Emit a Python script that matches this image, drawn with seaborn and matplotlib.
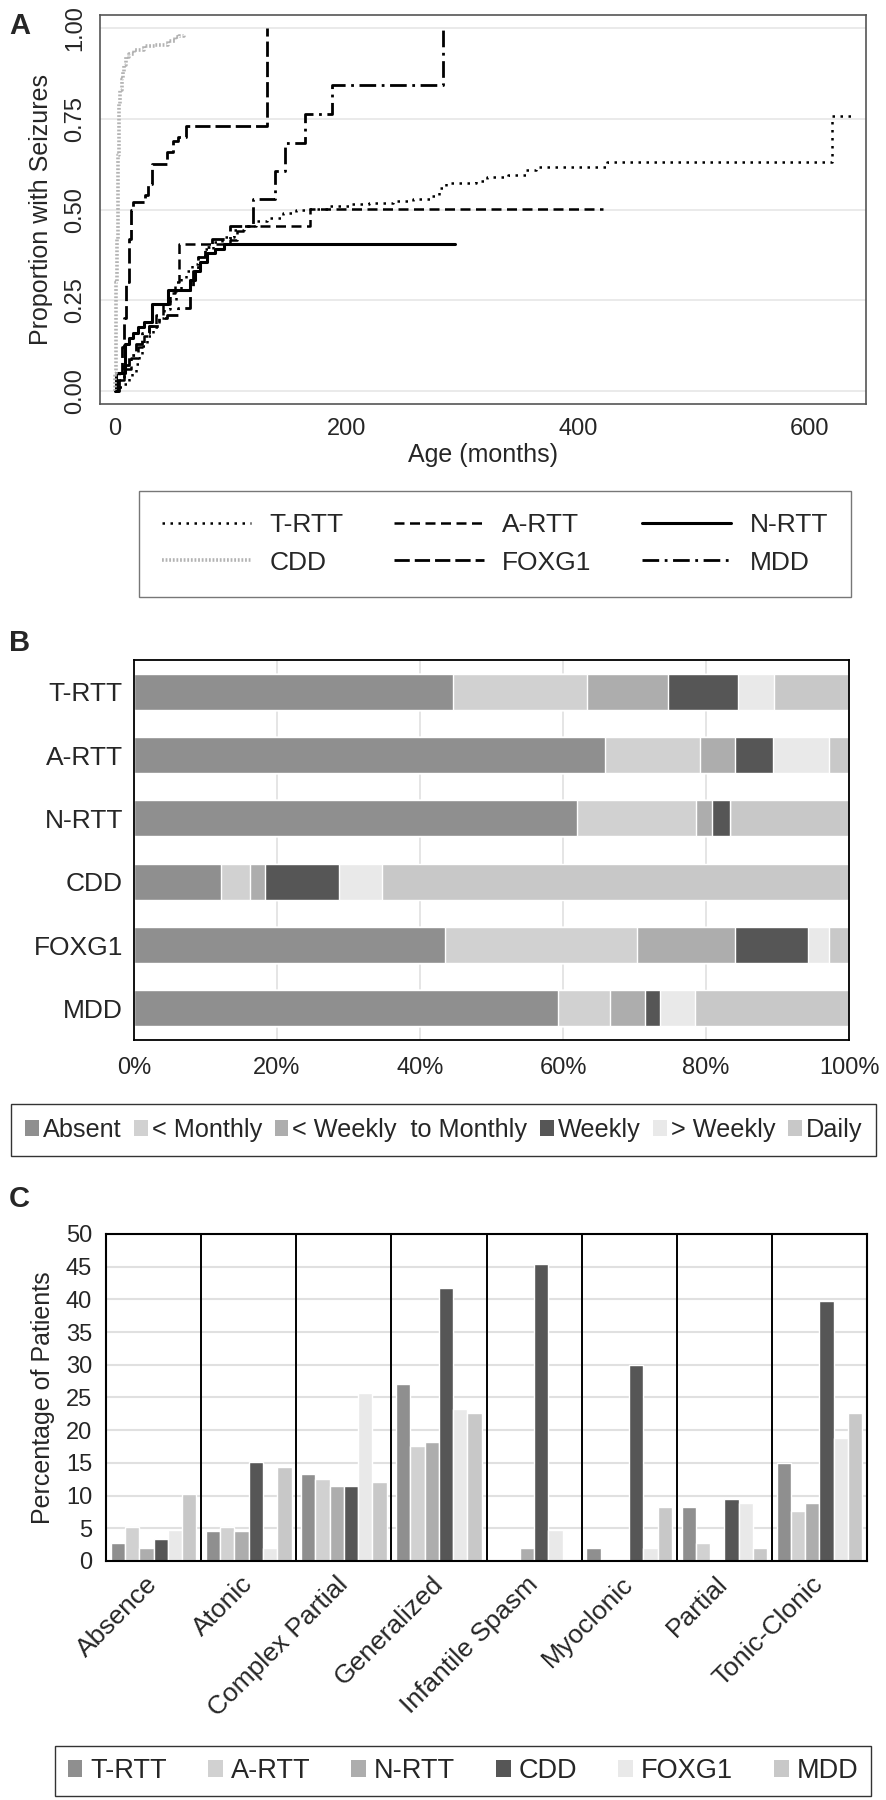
import numpy as np
import pandas as pd
import seaborn as sns
import matplotlib.pyplot as plt
from matplotlib.lines import Line2D
from matplotlib.patches import Patch

# --- Panel A: cumulative proportion with seizures by age (months) ---
trtt_t = [0, 4, 8, 12, 15, 18, 21, 24, 28, 33, 38, 43, 48, 53, 57, 62, 67, 72, 78, 85, 93, 103,
          112, 122, 132, 145, 157, 167, 185, 205, 220, 240, 258, 272, 280, 286, 312, 322, 340,
          355, 364, 425, 620, 636]
trtt_p = [0, 0.01, 0.02, 0.035, 0.05, 0.075, 0.10, 0.125, 0.15, 0.175, 0.20, 0.225, 0.25, 0.28,
          0.31, 0.33, 0.35, 0.37, 0.39, 0.41, 0.425, 0.445, 0.455, 0.468, 0.478, 0.49, 0.498,
          0.503, 0.51, 0.515, 0.518, 0.525, 0.53, 0.537, 0.56, 0.574, 0.58, 0.59, 0.595, 0.61,
          0.618, 0.632, 0.757, 0.757]
artt_t = [0, 3, 8, 14, 20, 25, 30, 36, 42, 48, 52, 56, 100, 106, 112, 169, 422]
artt_p = [0, 0.03, 0.06, 0.09, 0.12, 0.15, 0.18, 0.21, 0.24, 0.27, 0.30, 0.405, 0.415, 0.44,
          0.455, 0.502, 0.502]
nrtt_t = [0, 1, 9, 12, 16, 20, 25, 32, 46, 65, 69, 74, 80, 87, 94.5, 294]
nrtt_p = [0, 0.05, 0.13, 0.147, 0.16, 0.175, 0.19, 0.24, 0.277, 0.306, 0.33, 0.355, 0.38, 0.39,
          0.404, 0.404]
cdd_t = [0, 0.5, 1, 1.5, 2, 2.5, 3, 3.5, 4, 5, 6, 7, 8, 10, 12, 17, 25, 35, 46, 52, 56, 60]
cdd_p = [0, 0.05, 0.15, 0.3, 0.42, 0.55, 0.65, 0.72, 0.79, 0.83, 0.86, 0.88, 0.9, 0.92, 0.93,
         0.94, 0.952, 0.955, 0.965, 0.975, 0.98, 0.985]
foxg1_t = [0, 4, 6, 8, 10, 12, 14, 16, 26, 29, 32, 45, 50, 55, 62, 132]
foxg1_p = [0, 0.05, 0.12, 0.2, 0.3, 0.42, 0.5, 0.52, 0.54, 0.57, 0.625, 0.66, 0.69, 0.70, 0.73, 1.0]
mdd_t = [0, 3, 8, 12, 18, 24, 30, 38, 45, 55, 65, 68, 72, 78, 84, 100, 119.7, 138.5, 147,
         164.6, 187.7, 283.7]
mdd_p = [0, 0.03, 0.07, 0.1, 0.13, 0.16, 0.18, 0.2, 0.21, 0.229, 0.28, 0.33, 0.37, 0.396, 0.42,
         0.454, 0.528, 0.606, 0.685, 0.763, 0.843, 1.0]

# --- Panel B: seizure frequency (%) ---
groups = ["T-RTT", "A-RTT", "N-RTT", "CDD", "FOXG1", "MDD"]
freq_cats = ["Absent", "< Monthly", "< Weekly  to Monthly", "Weekly", "> Weekly", "Daily"]
absent = [44.6, 65.8, 62.0, 12.2, 43.5, 59.3]
lt_monthly = [18.7, 13.4, 16.6, 4.0, 26.8, 7.2]
lt_weekly_monthly = [11.4, 4.8, 2.2, 2.1, 13.7, 4.9]
weekly = [9.8, 5.4, 2.6, 10.4, 10.3, 2.2]
gt_weekly = [5.0, 7.8, 0.0, 6.0, 2.9, 4.9]
daily = [10.5, 2.8, 16.6, 65.3, 2.8, 21.5]

# --- Panel C: seizure types (% of patients) ---
seizure_types = ["Absence", "Atonic", "Complex Partial", "Generalized", "Infantile Spasm",
                 "Myoclonic", "Partial", "Tonic-Clonic"]
trtt_pct = [2.8, 4.6, 13.3, 27.0, 0.2, 2.0, 8.3, 15.0]
artt_pct = [5.2, 5.2, 12.6, 17.5, 0.0, 0.0, 2.8, 7.6]
nrtt_pct = [2.0, 4.6, 11.5, 18.2, 2.0, 0.0, 0.0, 8.9]
cdd_pct = [3.4, 15.2, 11.5, 41.7, 45.4, 29.9, 9.5, 39.8]
foxg1_pct = [4.7, 2.0, 25.7, 23.2, 4.8, 2.0, 8.9, 18.8]
mdd_pct = [10.2, 14.4, 12.1, 22.6, 0.0, 8.3, 2.0, 22.6]

# Stile
sns.set_theme(style="white")
plt.rcParams['font.family'] = ['Liberation Sans', 'DejaVu Sans']
narrow = ['Liberation Sans Narrow', 'Liberation Sans', 'DejaVu Sans']

freq_colors = ["#8f8f8f", "#d1d1d1", "#adadad", "#565656", "#e9e9e9", "#c8c8c8"]
group_colors = ["#8f8f8f", "#d1d1d1", "#adadad", "#565656", "#e9e9e9", "#c8c8c8"]

fig = plt.figure(figsize=(8.87, 18.0), dpi=100)

# ================= Panel A =================
axA = fig.add_axes([0.1127, 0.7756, 0.8636, 0.2161])
curves = [
    ("T-RTT", trtt_t, trtt_p, "black", (0, (1, 2.2)), 1.8),
    ("A-RTT", artt_t, artt_p, "black", (0, (4, 2.2)), 1.8),
    ("N-RTT", nrtt_t, nrtt_p, "black", "-", 2.2),
    ("CDD", cdd_t, cdd_p, "#b3b3b3", (0, (0.5, 0.5)), 2.6),
    ("FOXG1", foxg1_t, foxg1_p, "black", (0, (5.5, 1.8)), 2.0),
    ("MDD", mdd_t, mdd_p, "black", (0, (6, 2, 1, 2)), 2.0),
]
handles = {}
for name, t, p, col, ls, lw in curves:
    sns.lineplot(x=t, y=p, ax=axA, drawstyle="steps-post", color=col, linestyle=ls,
                 linewidth=lw, estimator=None, sort=False, legend=False)
    handles[name] = Line2D([], [], color=col, linestyle=ls, linewidth=lw)

axA.set_xlim(-12.7, 649)
axA.set_ylim(-0.036, 1.037)
axA.set_xticks([0, 200, 400, 600])
axA.set_yticks([0, 0.25, 0.5, 0.75, 1.0])
axA.set_yticklabels(["0.00", "0.25", "0.50", "0.75", "1.00"], rotation=90, va="center")
axA.yaxis.grid(True, color="#e6e6e6", linewidth=1.2)
axA.tick_params(axis="both", direction="out", length=6, width=1, color="#555555",
                labelsize=17, pad=4)
for s in axA.spines.values():
    s.set_color("#555555")
    s.set_linewidth(1.2)
axA.set_xlabel("Age (months)", fontsize=18, labelpad=2)
axA.set_ylabel("Proportion with Seizures", fontsize=18, labelpad=8)

legA_order = ["T-RTT", "CDD", "A-RTT", "FOXG1", "N-RTT", "MDD"]
fig.legend([handles[k] for k in legA_order], legA_order, loc="center",
           bbox_to_anchor=(0.558, 0.6978), ncol=3, frameon=True, fancybox=False,
           edgecolor="#555555", handlelength=3.4, handletextpad=0.7, columnspacing=1.9,
           borderpad=0.85, labelspacing=0.5, prop={"family": narrow, "size": 19})

# ================= Panel B =================
axB = fig.add_axes([0.1511, 0.4222, 0.8061, 0.2111])
freq_df = pd.DataFrame({
    freq_cats[0]: absent, freq_cats[1]: lt_monthly, freq_cats[2]: lt_weekly_monthly,
    freq_cats[3]: weekly, freq_cats[4]: gt_weekly, freq_cats[5]: daily,
}, index=groups)
cum = freq_df.cumsum(axis=1)
for cat, col in reversed(list(zip(freq_cats, freq_colors))):
    sns.barplot(x=cum[cat].values, y=groups, orient="h", color=col, width=0.57,
                saturation=1, ax=axB)
axB.set_xlim(0, 100)
axB.set_xticks([0, 20, 40, 60, 80, 100])
axB.set_xticklabels([f"{v}%" for v in [0, 20, 40, 60, 80, 100]])
axB.xaxis.grid(True, color="#e0e0e0", linewidth=1.2)
axB.set_axisbelow(True)
axB.tick_params(axis="x", length=0, labelsize=17, pad=12)
axB.tick_params(axis="y", length=0, pad=8)
for lab in axB.get_yticklabels():
    lab.set_fontfamily(narrow)
    lab.set_fontsize(19)
axB.set_xlabel("")
axB.set_ylabel("")
for s in axB.spines.values():
    s.set_color("black")
    s.set_linewidth(1.3)

legB = [Patch(facecolor=c, edgecolor="none") for c in freq_colors]
fig.legend(legB, freq_cats, loc="center", bbox_to_anchor=(0.5, 0.3722), ncol=6,
           frameon=True, fancybox=False, edgecolor="black", handlelength=0.55,
           handleheight=0.55, handletextpad=0.15, columnspacing=0.5, borderpad=0.55,
           prop={"family": ["Liberation Sans", "DejaVu Sans"], "size": 18.2})

# ================= Panel C =================
axC = fig.add_axes([0.1195, 0.1328, 0.8580, 0.1817])
type_df = pd.DataFrame({
    "type": seizure_types * 6,
    "group": np.repeat(groups, len(seizure_types)),
    "pct": trtt_pct + artt_pct + nrtt_pct + cdd_pct + foxg1_pct + mdd_pct,
})
sns.barplot(data=type_df, x="type", y="pct", hue="group", hue_order=groups,
            palette=group_colors, saturation=1, width=0.9, ax=axC, legend=False)
axC.set_ylim(0, 50)
axC.set_xlim(-0.5, len(seizure_types) - 0.5)
axC.set_yticks(range(0, 51, 5))
axC.yaxis.grid(True, color="#e0e0e0", linewidth=1.5)
axC.set_axisbelow(True)
for i in range(len(seizure_types) - 1):
    axC.axvline(i + 0.5, color="black", linewidth=1.4)
axC.tick_params(axis="both", length=0, labelsize=17)
axC.tick_params(axis="y", pad=10)
axC.set_xticks(range(len(seizure_types)))
axC.set_xticklabels(seizure_types, rotation=45, ha="right", va="center",
                    rotation_mode="anchor", fontfamily=narrow, fontsize=19)
axC.tick_params(axis="x", pad=14)
axC.set_xlabel("")
axC.set_ylabel("Percentage of Patients", fontsize=18, labelpad=8)
for s in axC.spines.values():
    s.set_color("black")
    s.set_linewidth(1.5)

legC = [Patch(facecolor=c, edgecolor="none") for c in group_colors]
fig.legend(legC, groups, loc="center", bbox_to_anchor=(0.522, 0.0161), ncol=6,
           frameon=True, fancybox=False, edgecolor="black", handlelength=0.55,
           handleheight=0.55, handletextpad=0.3, columnspacing=1.5, borderpad=0.45,
           prop={"family": narrow, "size": 19.5})

# Panel letters
fig.text(0.010, 0.9935, "A", fontsize=21, fontweight="bold", va="top", ha="left")
fig.text(0.010, 0.6505, "B", fontsize=21, fontweight="bold", va="top", ha="left")
fig.text(0.010, 0.3415, "C", fontsize=21, fontweight="bold", va="top", ha="left")

fig.savefig("out.png", dpi=100)
plt.close(fig)
